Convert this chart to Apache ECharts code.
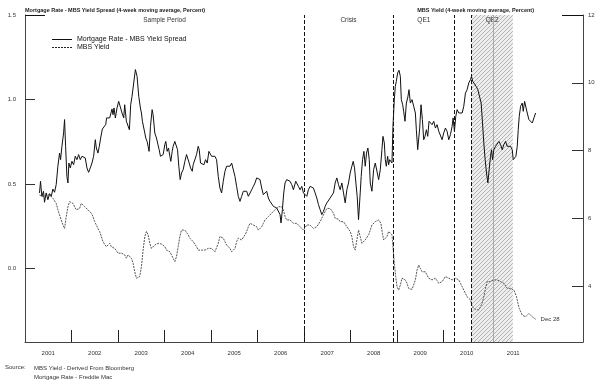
<!DOCTYPE html>
<html><head><meta charset="utf-8">
<script src="https://cdn.jsdelivr.net/npm/echarts@6/dist/echarts.min.js"></script>
<style>html,body{margin:0;padding:0;background:#fff}#c{width:600px;height:384px}</style>
</head><body><div id="c"></div>
<script>
const leftTitle = 'Mortgage Rate - MBS Yield Spread (4-week moving average, Percent)';
const rightTitle = 'MBS Yield (4-week moving average, Percent)';
const seriesNames = ['Mortgage Rate - MBS Yield Spread', 'MBS Yield'];
const yearTicks = [2002, 2003, 2004, 2005, 2006, 2007, 2008, 2009, 2010, 2011];
const yearLabels = [2001, 2002, 2003, 2004, 2005, 2006, 2007, 2008, 2009, 2010, 2011];
const leftTicks = [0, 0.5, 1.0, 1.5];
const rightTicks = [4, 6, 8, 10, 12];
const periods = [
  { name: 'Sample Period', from: 2001.0, to: 2007.0, hatched: false },
  { name: 'Crisis', from: 2007.0, to: 2008.914, hatched: false },
  { name: 'QE1', from: 2008.914, to: 2010.241, hatched: false },
  { name: 'QE2', from: 2010.601, to: 2011.491, hatched: true }
];
const dashedLines = [2007.0, 2008.914, 2010.241, 2010.601];
const greyLines = [2011.06];
const endNote = 'Dec 28';
const sourceLines = ['MBS Yield - Derived From Bloomberg', 'Mortgage Rate - Freddie Mac'];

const spreadPoints = [
[2001.312,0.447],[2001.334,0.516],[2001.363,0.427],[2001.398,0.457],[2001.420,0.392],[2001.456,0.447],[2001.492,0.407],[2001.528,0.443],[2001.564,0.427],[2001.600,0.470],[2001.636,0.451],[2001.671,0.496],[2001.707,0.605],[2001.743,0.683],[2001.765,0.644],[2001.794,0.723],[2001.830,0.802],[2001.851,0.881],[2001.873,0.723],[2001.901,0.545],[2001.923,0.506],[2001.944,0.624],[2001.973,0.595],
[2002.009,0.634],[2002.045,0.614],[2002.081,0.664],[2002.117,0.644],[2002.153,0.674],[2002.189,0.644],[2002.225,0.664],[2002.261,0.674],[2002.296,0.654],[2002.332,0.595],[2002.368,0.569],[2002.404,0.595],[2002.440,0.624],[2002.476,0.664],[2002.512,0.762],[2002.534,0.713],[2002.569,0.683],[2002.598,0.723],[2002.627,0.772],[2002.663,0.825],[2002.699,0.821],[2002.735,0.851],[2002.756,0.891],[2002.785,0.881],[2002.821,0.891],[2002.842,0.900],[2002.871,0.944],[2002.893,0.910],[2002.914,0.950],[2002.943,0.891],[2002.979,0.950],
[2003.015,0.989],[2003.051,0.979],[2003.087,0.920],[2003.123,0.891],[2003.144,0.969],[2003.180,0.871],[2003.216,0.881],[2003.245,0.821],[2003.273,0.969],[2003.302,1.019],[2003.338,1.098],[2003.374,1.177],[2003.410,1.137],[2003.446,1.019],[2003.482,0.950],
[2003.504,0.920],[2003.525,0.871],[2003.554,0.881],[2003.576,0.802],[2003.597,0.772],[2003.626,0.752],[2003.648,0.723],[2003.669,0.693],[2003.698,0.841],[2003.734,0.940],[2003.755,0.910],[2003.791,0.802],[2003.827,0.772],[2003.863,0.762],[2003.885,0.703],[2003.913,0.664],[2003.949,0.654],[2003.971,0.674],
[2004.007,0.733],[2004.028,0.752],[2004.057,0.693],[2004.086,0.713],[2004.115,0.664],[2004.136,0.634],[2004.165,0.693],[2004.186,0.723],[2004.222,0.752],[2004.258,0.762],[2004.280,0.703],[2004.308,0.605],[2004.337,0.526],[2004.366,0.565],[2004.402,0.585],[2004.438,0.634],[2004.474,0.674],[2004.510,0.683],[2004.531,0.624],[2004.560,0.595],[2004.596,0.575],[2004.617,0.614],[2004.653,0.624],[2004.689,0.674],[2004.725,0.723],[2004.747,0.703],[2004.775,0.624],[2004.811,0.634],[2004.847,0.614],[2004.883,0.644],[2004.919,0.624],[2004.955,0.693],[2004.984,0.703],
[2005.013,0.664],[2005.048,0.654],[2005.084,0.664],[2005.120,0.644],[2005.156,0.545],[2005.192,0.476],[2005.228,0.447],[2005.264,0.516],[2005.300,0.575],[2005.336,0.605],[2005.372,0.595],[2005.408,0.605],[2005.444,0.624],[2005.479,0.614],[2005.515,0.545],[2005.551,0.486],[2005.587,0.427],[2005.623,0.397],[2005.659,0.427],[2005.695,0.457],[2005.731,0.447],[2005.767,0.457],[2005.803,0.427],[2005.839,0.417],[2005.875,0.466],[2005.911,0.486],[2005.946,0.506],[2005.982,0.536],
[2006.018,0.545],[2006.054,0.526],[2006.090,0.476],[2006.126,0.437],[2006.162,0.427],[2006.197,0.457],[2006.233,0.417],[2006.269,0.397],[2006.305,0.388],[2006.341,0.368],[2006.377,0.378],[2006.413,0.358],[2006.449,0.348],[2006.485,0.319],[2006.506,0.269],[2006.535,0.348],[2006.564,0.447],[2006.593,0.506],[2006.628,0.526],[2006.664,0.536],[2006.700,0.516],[2006.736,0.496],[2006.772,0.466],[2006.794,0.457],[2006.822,0.516],[2006.844,0.526],[2006.880,0.486],[2006.916,0.466],[2006.952,0.486],[2006.988,0.447],
[2007.024,0.437],[2007.060,0.427],[2007.095,0.466],[2007.131,0.486],[2007.167,0.486],[2007.203,0.476],[2007.239,0.447],[2007.275,0.417],[2007.311,0.378],[2007.347,0.348],[2007.383,0.319],[2007.419,0.338],[2007.455,0.368],[2007.491,0.388],[2007.526,0.378],[2007.562,0.417],[2007.598,0.427],[2007.634,0.447],[2007.670,0.506],[2007.706,0.536],[2007.742,0.496],[2007.778,0.466],[2007.814,0.506],[2007.850,0.447],[2007.886,0.388],[2007.922,0.466],[2007.957,0.506],[2007.993,0.565],
[2008.029,0.605],[2008.058,0.634],[2008.087,0.595],[2008.116,0.506],[2008.144,0.427],[2008.173,0.289],[2008.209,0.447],[2008.230,0.545],[2008.259,0.644],[2008.288,0.693],[2008.317,0.605],[2008.345,0.683],[2008.374,0.713],[2008.403,0.644],
[2008.425,0.506],[2008.461,0.457],[2008.497,0.585],[2008.533,0.624],[2008.569,0.614],[2008.605,0.526],[2008.641,0.585],[2008.676,0.703],[2008.698,0.782],[2008.727,0.743],[2008.748,0.644],[2008.770,0.605],[2008.799,0.664],[2008.820,0.614],[2008.842,0.644],[2008.870,0.654],[2008.892,0.624],[2008.913,0.841],[2008.942,0.999],[2008.964,1.078],[2008.985,1.107],
[2009.014,1.157],[2009.043,1.173],[2009.072,1.137],[2009.093,0.999],[2009.122,0.969],[2009.143,0.930],[2009.172,0.871],[2009.201,0.979],[2009.230,1.009],[2009.258,1.058],[2009.287,0.979],[2009.323,0.999],[2009.359,0.960],[2009.395,0.920],[2009.416,0.821],[2009.445,0.703],[2009.467,0.693],[2009.488,0.831],[2009.517,0.969],[2009.546,0.881],[2009.574,0.762],[2009.603,0.782],[2009.632,0.821],[2009.661,0.782],[2009.689,0.871],[2009.718,0.881],[2009.754,0.851],[2009.790,0.871],[2009.826,0.831],[2009.862,0.851],[2009.898,0.812],[2009.934,0.821],[2009.970,0.762],
[2010.005,0.802],[2010.041,0.831],[2010.077,0.812],[2010.113,0.762],[2010.149,0.792],[2010.185,0.841],[2010.207,0.891],[2010.235,0.812],[2010.264,0.900],[2010.293,0.940],[2010.329,0.920],[2010.365,0.930],[2010.401,0.920],[2010.436,0.960],[2010.472,1.038],[2010.508,1.058],[2010.544,1.098],[2010.580,1.117],[2010.602,1.137],[2010.630,1.107],[2010.666,1.098],[2010.702,1.078],[2010.738,1.058],[2010.774,1.058],
[2010.810,0.979],[2010.839,0.861],[2010.867,0.743],[2010.896,0.644],[2010.925,0.565],[2010.954,0.506],[2010.982,0.585],
[2011.011,0.664],[2011.033,0.703],[2011.054,0.644],[2011.083,0.703],[2011.119,0.723],[2011.155,0.733],[2011.191,0.752],[2011.227,0.733],[2011.262,0.703],[2011.298,0.733],[2011.334,0.752],[2011.370,0.723],[2011.406,0.733],[2011.442,0.723],[2011.478,0.703],[2011.500,0.644],[2011.528,0.634],[2011.557,0.664],[2011.586,0.723],[2011.607,0.821],[2011.629,0.900],[2011.658,0.960],[2011.693,0.979],[2011.715,0.930],[2011.744,0.989],[2011.772,0.979],[2011.801,0.920],[2011.837,0.881],[2011.873,0.871],[2011.909,0.861],[2011.945,0.891],[2011.981,0.920]
];

const mbsPoints = [
[2001.312,6.69],[2001.348,6.69],[2001.384,6.64],[2001.420,6.64],[2001.456,6.69],[2001.492,6.64],[2001.528,6.69],[2001.564,6.64],[2001.600,6.59],[2001.636,6.54],[2001.671,6.44],[2001.707,6.25],[2001.743,6.10],[2001.779,5.95],[2001.815,5.80],[2001.851,5.70],[2001.887,6.05],[2001.923,6.34],[2001.959,6.49],[2001.995,6.54],
[2002.031,6.44],[2002.067,6.34],[2002.103,6.25],[2002.138,6.20],[2002.174,6.29],[2002.210,6.44],[2002.246,6.44],[2002.282,6.34],[2002.318,6.29],[2002.354,6.25],[2002.390,6.20],[2002.426,6.15],[2002.462,6.05],[2002.498,5.90],[2002.534,5.80],[2002.569,5.70],[2002.605,5.61],[2002.641,5.46],[2002.677,5.31],[2002.713,5.26],[2002.749,5.16],[2002.785,5.21],[2002.821,5.26],[2002.857,5.16],[2002.893,5.21],[2002.929,5.11],[2002.965,5.11],
[2003.000,4.97],[2003.036,5.01],[2003.072,4.97],[2003.108,5.01],[2003.144,4.92],[2003.180,4.82],[2003.216,4.92],[2003.252,4.97],[2003.288,4.82],[2003.324,4.67],[2003.360,4.42],[2003.396,4.23],[2003.432,4.18],[2003.467,4.28],[2003.504,4.57],[2003.540,5.06],[2003.576,5.46],[2003.612,5.61],[2003.648,5.51],[2003.684,5.26],[2003.719,5.11],[2003.755,5.06],[2003.791,5.21],[2003.827,5.26],[2003.863,5.26],[2003.899,5.26],[2003.935,5.24],[2003.971,5.21],
[2004.007,5.16],[2004.043,5.06],[2004.079,5.06],[2004.115,5.01],[2004.150,4.97],[2004.186,4.82],[2004.222,4.72],[2004.258,4.87],[2004.294,5.16],[2004.330,5.46],[2004.366,5.65],[2004.402,5.70],[2004.438,5.65],[2004.474,5.61],[2004.510,5.51],[2004.546,5.41],[2004.582,5.41],[2004.617,5.31],[2004.653,5.26],[2004.689,5.16],[2004.725,5.06],[2004.761,5.08],[2004.797,5.06],[2004.833,5.11],[2004.869,5.06],[2004.905,5.08],[2004.941,5.11],[2004.977,5.06],
[2005.013,5.11],[2005.048,5.06],[2005.084,5.01],[2005.120,5.06],[2005.156,5.26],[2005.192,5.46],[2005.228,5.51],[2005.264,5.41],[2005.300,5.31],[2005.336,5.21],[2005.372,5.21],[2005.408,5.11],[2005.444,5.01],[2005.479,5.01],[2005.515,5.11],[2005.551,5.31],[2005.587,5.41],[2005.623,5.46],[2005.659,5.36],[2005.695,5.36],[2005.731,5.51],[2005.767,5.61],[2005.803,5.75],[2005.839,5.85],[2005.875,5.87],[2005.911,5.80],[2005.946,5.80],[2005.982,5.75],
[2006.018,5.65],[2006.054,5.65],[2006.090,5.75],[2006.126,5.85],[2006.162,5.95],[2006.197,6.00],[2006.233,6.05],[2006.269,6.10],[2006.305,6.15],[2006.341,6.20],[2006.377,6.25],[2006.413,6.29],[2006.449,6.34],[2006.485,6.39],[2006.521,6.34],[2006.557,6.25],[2006.593,6.05],[2006.628,5.95],[2006.664,5.90],[2006.700,5.95],[2006.736,5.90],[2006.772,5.85],[2006.808,5.80],[2006.844,5.85],[2006.880,5.80],[2006.916,5.75],[2006.952,5.70],[2006.988,5.65],
[2007.024,5.70],[2007.060,5.80],[2007.095,5.85],[2007.131,5.80],[2007.167,5.75],[2007.203,5.70],[2007.239,5.70],[2007.275,5.75],[2007.311,5.80],[2007.347,5.90],[2007.383,6.00],[2007.419,6.10],[2007.455,6.20],[2007.491,6.29],[2007.526,6.34],[2007.562,6.29],[2007.598,6.25],[2007.634,6.15],[2007.670,6.00],[2007.706,5.95],[2007.742,5.97],[2007.778,5.90],[2007.814,5.95],[2007.850,5.90],[2007.886,5.85],[2007.922,5.75],[2007.957,5.70],[2007.993,5.61],
[2008.029,5.46],[2008.065,5.16],[2008.101,5.06],[2008.137,5.36],[2008.173,5.65],[2008.209,5.46],[2008.245,5.26],[2008.281,5.31],[2008.317,5.36],[2008.353,5.41],[2008.389,5.51],[2008.425,5.65],[2008.461,5.80],[2008.497,5.85],[2008.533,5.90],[2008.569,5.85],[2008.605,5.95],[2008.626,6.00],[2008.655,5.85],[2008.684,5.56],[2008.712,5.36],[2008.748,5.31],[2008.784,5.46],[2008.820,5.61],[2008.856,5.65],[2008.892,5.51],[2008.913,5.16],[2008.942,4.67],[2008.971,4.28],
[2009.000,3.98],[2009.036,3.88],[2009.072,4.03],[2009.107,4.23],[2009.143,4.23],[2009.179,4.18],[2009.215,4.08],[2009.251,3.93],[2009.287,3.88],[2009.323,3.90],[2009.359,3.93],[2009.395,4.18],[2009.431,4.47],[2009.467,4.62],[2009.503,4.52],[2009.539,4.42],[2009.574,4.47],[2009.610,4.42],[2009.646,4.32],[2009.682,4.23],[2009.718,4.18],[2009.754,4.18],[2009.790,4.16],[2009.826,4.23],[2009.862,4.16],[2009.898,4.08],[2009.934,4.03],[2009.970,4.13],
[2010.005,4.18],[2010.041,4.28],[2010.077,4.26],[2010.113,4.23],[2010.149,4.23],[2010.185,4.18],[2010.221,4.18],[2010.257,4.23],[2010.293,4.28],[2010.329,4.18],[2010.365,4.08],[2010.401,3.98],[2010.436,3.88],[2010.472,3.78],[2010.508,3.68],[2010.544,3.64],[2010.580,3.59],[2010.616,3.39],[2010.652,3.34],[2010.688,3.31],[2010.724,3.31],[2010.760,3.29],[2010.796,3.29],[2010.831,3.49],[2010.867,3.68],[2010.903,3.93],[2010.939,4.13],[2010.975,4.18],
[2011.011,4.13],[2011.047,4.18],[2011.083,4.18],[2011.119,4.23],[2011.155,4.18],[2011.191,4.18],[2011.227,4.13],[2011.262,4.08],[2011.298,4.08],[2011.334,4.03],[2011.370,3.93],[2011.406,3.88],[2011.442,3.93],[2011.478,3.88],[2011.514,3.88],[2011.550,3.83],[2011.571,3.68],[2011.600,3.49],[2011.629,3.34],[2011.658,3.29],[2011.693,3.14],[2011.729,3.09],[2011.765,3.09],[2011.801,3.14],[2011.837,3.19],[2011.873,3.14],[2011.909,3.09],[2011.945,3.09],[2011.981,3.02]
];

function hatchPattern() {
  const c = document.createElement('canvas');
  c.width = 4; c.height = 4;
  const g = c.getContext('2d');
  g.fillStyle = '#eeeeee';
  g.fillRect(0, 0, 4, 4);
  g.strokeStyle = '#b4b4b4';
  g.lineWidth = 1;
  g.beginPath();
  g.moveTo(0, 4); g.lineTo(4, 0);
  g.moveTo(-2, 2); g.lineTo(2, -2);
  g.moveTo(2, 6); g.lineTo(6, 2);
  g.stroke();
  return c;
}

const FONT = 'Liberation Sans';
const axisCol = '#444';
const chart = echarts.init(document.getElementById('c'), null, { renderer: 'canvas' });

const areaData = periods.map(p => [
  { name: p.name, xAxis: p.from, itemStyle: { color: p.hatched ? { image: hatchPattern(), repeat: 'repeat' } : 'rgba(0,0,0,0)' } },
  { xAxis: p.to }
]);
const lineData = dashedLines.map(v => ({ xAxis: v }))
  .concat(greyLines.map(v => ({ xAxis: v, lineStyle: { type: 'solid', color: '#a8a8a8', width: 1 } })));

const solidIcon = 'path://M0,0H20V1H0Z';
const dashIcon = 'path://M0,0H2V1H0Z M3,0H5V1H3Z M6,0H8V1H6Z M9,0H11V1H9Z M12,0H14V1H12Z M15,0H17V1H15Z M18,0H20V1H18Z';

chart.setOption({
  animation: false,
  backgroundColor: '#fff',
  textStyle: { fontFamily: FONT },
  title: [
    { text: leftTitle, left: 25, top: 7, padding: 0, textStyle: { fontFamily: FONT, fontSize: 5.5, fontWeight: 'bold', color: '#222' } },
    { text: rightTitle, right: 66, top: 7, padding: 0, textStyle: { fontFamily: FONT, fontSize: 5.5, fontWeight: 'bold', color: '#222' } },
    { text: 'Source:', left: 5, top: 364, padding: 0, textStyle: { fontFamily: FONT, fontSize: 6, fontWeight: 'normal', color: '#333' } },
    { text: sourceLines.join('\n'), left: 34, top: 364, padding: 0, textStyle: { fontFamily: FONT, fontSize: 6, fontWeight: 'normal', color: '#333', lineHeight: 9 } }
  ],
  legend: {
    data: [
      { name: seriesNames[0], icon: solidIcon, itemStyle: { color: '#111' } },
      { name: seriesNames[1], icon: dashIcon, itemStyle: { color: '#222' } }
    ],
    orient: 'vertical',
    left: 47, top: 31,
    itemWidth: 20, itemHeight: 1, itemGap: 1,
    textStyle: { fontFamily: FONT, fontSize: 7, color: '#111', lineHeight: 7 },
    selectedMode: false
  },
  grid: { left: 25, right: 17, top: 15, bottom: 42, containLabel: false },
  xAxis: {
    type: 'value', min: 2001, max: 2013,
    axisLine: { show: true, onZero: false, lineStyle: { color: axisCol, width: 1 } },
    axisTick: { show: true, inside: true, length: 12, customValues: yearTicks, lineStyle: { color: '#222' } },
    axisLabel: { customValues: yearLabels.map(y => y + 0.5), formatter: v => String(Math.floor(v)), fontSize: 6, color: '#333', margin: 8, fontFamily: FONT },
    splitLine: { show: false }
  },
  yAxis: [
    {
      type: 'value', position: 'left', min: -0.435, max: 1.5,
      axisLine: { show: true, onZero: false, lineStyle: { color: axisCol } },
      axisTick: { show: true, inside: true, length: 10, customValues: [0, 0.5, 1.0], lineStyle: { color: '#333' } },
      axisLabel: { customValues: leftTicks, formatter: v => v.toFixed(1), fontSize: 6, color: '#333', margin: 9, fontFamily: FONT },
      splitLine: { show: false }
    },
    {
      type: 'value', position: 'right', min: 2.347, max: 12,
      axisLine: { show: true, onZero: false, lineStyle: { color: axisCol } },
      axisTick: { show: true, inside: true, length: 11, customValues: [4, 6, 8, 10], lineStyle: { color: '#333' } },
      axisLabel: { customValues: rightTicks, formatter: v => String(v), fontSize: 6, color: '#333', margin: 5, fontFamily: FONT },
      splitLine: { show: false }
    },
    {
      type: 'value', position: 'left', min: -0.435, max: 1.5,
      axisLine: { show: false, onZero: false },
      axisTick: { show: true, inside: true, length: 20, customValues: [1.5], lineStyle: { color: '#111' } },
      axisLabel: { show: false }, splitLine: { show: false }
    },
    {
      type: 'value', position: 'right', min: 2.347, max: 12,
      axisLine: { show: false, onZero: false },
      axisTick: { show: true, inside: true, length: 21, customValues: [12], lineStyle: { color: '#111' } },
      axisLabel: { show: false }, splitLine: { show: false }
    }
  ],
  series: [
    {
      name: seriesNames[0], type: 'line', yAxisIndex: 0, data: spreadPoints,
      symbol: 'none', z: 5,
      lineStyle: { color: '#111', width: 1 },
      itemStyle: { color: '#111' },
      markArea: {
        silent: true,
        label: { show: true, position: 'insideTop', distance: 2, fontSize: 6.5, color: '#333', fontFamily: FONT },
        data: areaData
      },
      markLine: {
        silent: true, symbol: ['none', 'none'],
        label: { show: false },
        lineStyle: { type: [4, 2], color: '#111', width: 1 },
        data: lineData
      }
    },
    {
      name: seriesNames[1], type: 'line', yAxisIndex: 1, data: mbsPoints,
      symbol: 'none', z: 4,
      lineStyle: { color: '#555', width: 1, type: [2, 1] },
      itemStyle: { color: '#555' },
      endLabel: { show: true, formatter: endNote, fontSize: 6, color: '#333', distance: 5, fontFamily: FONT }
    }
  ]
});
</script></body></html>
